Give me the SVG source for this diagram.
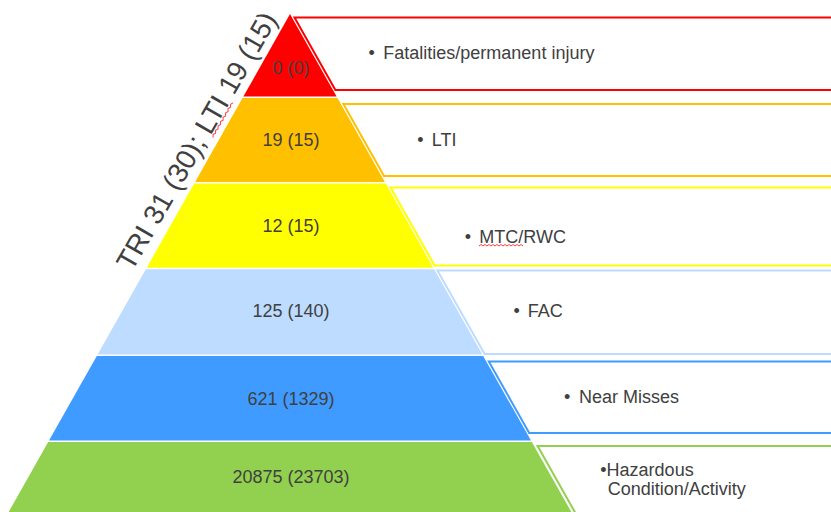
<svg xmlns="http://www.w3.org/2000/svg" width="831" height="512" viewBox="0 0 831 512">
<style>
.cnt{font-family:"Liberation Sans",Arial,sans-serif;font-size:18px;fill:#404040;text-anchor:middle}
.lbl{font-family:"Liberation Sans",Arial,sans-serif;font-size:18px;fill:#404040}
.box{fill:none;stroke-width:2}
.side{font-family:"Liberation Sans",Arial,sans-serif;font-size:28px;fill:#404040}
.wavy{fill:none;stroke:#ff4040;stroke-width:1}
</style>
<rect width="831" height="512" fill="#ffffff"/>
<g id="tier-fatalities">
<polygon points="290,14 336.6,96.5 243.4,96.5" fill="#ff0000"/>
<polygon class="box" stroke="#ff0000" points="294.5,17.5 840,17.5 840,90 335.4,90"/>
<text class="cnt" x="291" y="74">0 (0)</text>
<text class="lbl" x="368.5" y="59.3">•<tspan x="383.3">Fatalities/permanent injury</tspan></text>
</g>
<g id="tier-lti">
<polygon points="242.5,98 337.5,98 384.9,182 195.1,182" fill="#ffc000"/>
<polygon class="box" stroke="#ffc000" points="343.4,104 840,104 840,176 384,176"/>
<text class="cnt" x="291" y="146">19 (15)</text>
<text class="lbl" x="417.3" y="146">•<tspan x="431.8">LTI</tspan></text>
</g>
<g id="tier-mtc">
<polygon points="194.2,183.5 385.8,183.5 433.3,267.7 146.7,267.7" fill="#ffff00"/>
<polygon class="box" stroke="#ffff00" points="390.5,187.5 840,187.5 840,265.5 434.6,265.5"/>
<text class="cnt" x="291" y="231.7">12 (15)</text>
<text class="lbl" x="464.8" y="242.7">•<tspan x="479.3">MTC/RWC</tspan></text>
<path class="wavy" d="M479,246 l2,-1.5 l2,1.5 l2,-1.5 l2,1.5 l2,-1.5 l2,1.5 l2,-1.5 l2,1.5 l2,-1.5 l2,1.5 l2,-1.5 l2,1.5 l2,-1.5 l2,1.5 l2,-1.5 l2,1.5 l2,-1.5 l2,1.5 l2,-1.5 l2,1.5 l2,-1.5 l2,1.5"/>
</g>
<g id="tier-fac">
<polygon points="145.8,269.2 434.2,269.2 482.4,354.5 97.6,354.5" fill="#bddcff"/>
<polygon class="box" stroke="#bddcff" points="437.4,270.5 840,270.5 840,354 484.6,354"/>
<text class="cnt" x="291" y="317">125 (140)</text>
<text class="lbl" x="513.5" y="317.3">•<tspan x="527.7">FAC</tspan></text>
</g>
<g id="tier-near-misses">
<polygon points="96.8,356 483.2,356 531,440.5 49,440.5" fill="#3f9bff"/>
<polygon class="box" stroke="#3f9bff" points="488.8,361.5 840,361.5 840,433 529.2,433"/>
<text class="cnt" x="291" y="405">621 (1329)</text>
<text class="lbl" x="564" y="402.7">•<tspan x="579">Near Misses</tspan></text>
</g>
<g id="tier-hazardous">
<polygon points="48.2,442 531.8,442 575.9,520 4.1,520" fill="#92d050"/>
<polygon class="box" stroke="#92d050" points="537.6,446 840,446 840,530 585,530"/>
<text class="cnt" x="291" y="482.7">20875 (23703)</text>
<text class="lbl" x="600.3" y="476">•Hazardous</text>
<text class="lbl" x="607.7" y="495.3">Condition/Activity</text>
</g>
<g id="side-label" transform="translate(132,272) rotate(-60)">
<text class="side" x="0" y="0">TRI 31 (30); LTI 19 (15)</text>
<path class="wavy" d="M157,3 l2.5,-1.5 l2.5,1.5 l2.5,-1.5 l2.5,1.5 l2.5,-1.5 l2.5,1.5 l2.5,-1.5 l2.5,1.5 l2.5,-1.5 l2.5,1.5 l2.5,-1.5 l2.5,1.5 l2.5,-1.5 l2.5,1.5 l2.5,-1.5 l2.5,1.5"/>
</g>
<g id="connectors"></g>
</svg>
